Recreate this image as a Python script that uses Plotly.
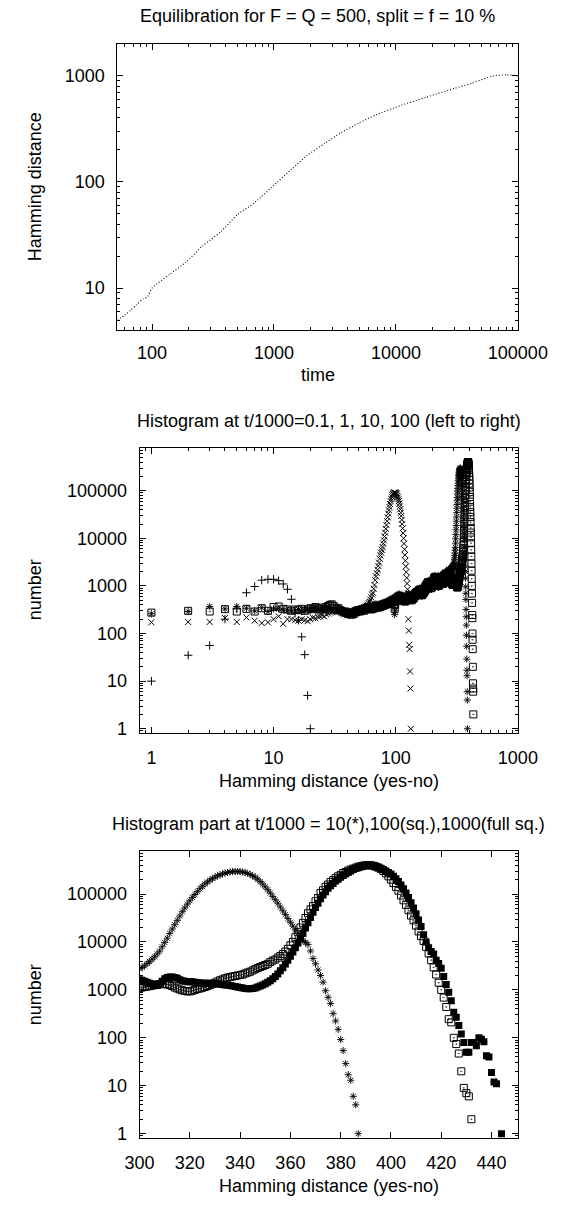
import plotly.graph_objects as go
import math

# ---------------- data ----------------
# Panel 1: equilibration curve
TIME = [52, 60, 67, 75, 84, 92, 100, 140, 189, 260, 363, 500, 696, 1060, 1400,
        1850, 2600, 3540, 5000, 6750, 11200, 17900, 30300, 41900, 61500, 80000, 100000]
DIST = [4.97, 5.6, 6.2, 7.0, 7.9, 8.3, 10.0, 13.5, 17.5, 25, 33.6, 49, 64, 99, 132,
        176, 230, 290, 360, 425, 530, 630, 760, 850, 990, 1020, 1000]

# Panel 2: histograms at t/1000 = 0.1 (+), 1 (x), 10 (*), 100 (squares)
PLUS_X = [1, 2, 3, 4, 5, 6, 7, 8, 9, 10, 11, 12, 13, 14, 15, 16, 17, 18, 19, 20]
PLUS_Y = [10, 35, 56, 200, 330, 720, 975, 1320, 1380, 1380, 1290, 1100, 850, 525,
          270, 190, 85, 36, 5, 1]

XT1_Y = [172, 175, 175, 212, 175, 218, 186, 166, 172, 200,
         230, 160, 200, 200, 190, 186, 200, 190, 182, 200,
         214, 209, 224, 229, 240, 229, 251, 263, 275, 282,
         295, 302, 295, 288, 302, 275, 263, 251, 257, 240,
         251, 240, 234, 251, 257, 245, 263, 269, 275, 288,
         282, 295, 302, 309, 331, 339, 363, 380, 407, 437,
         468, 513, 575, 661, 724, 871, 1047, 1318, 1585, 1862,
         2188, 2630, 3090, 3715, 4365, 5012, 5754, 6607, 7762, 9120,
         10960, 13180, 15850, 19050, 22910, 27540, 33110, 38900, 45710, 52480,
         60260, 67610, 74130, 81280, 85110, 89130, 91200, 91200, 91200, 89130,
         87100, 83180, 77620, 72440, 66070, 60260, 53700, 46770, 40740, 34670,
         29510, 24550, 19950, 16220, 12880, 10000, 7762, 5888, 4467, 3388,
         2570, 1950, 1479, 1122, 851, 631, 200, 115, 58, 47,
         16, 7, 1]

STAR_LOW = [260, 290, 370, 330, 370, 340, 300, 350, 290, 330,
            330, 310, 300, 310, 300, 320, 290, 310, 330, 300,
            350, 310, 330, 300, 320, 340, 310, 350, 320, 340,
            330, 310, 300, 320, 290, 300, 280, 270, 260, 250,
            260, 240, 250, 260, 270, 260, 280, 290, 300, 280,
            310, 300, 320, 310, 330, 320, 340, 330, 350, 340,
            360, 350, 380, 370, 400, 380, 410, 390, 420, 400,
            380, 410, 390, 420, 400, 430, 410, 440, 420, 450,
            430, 460, 440, 470, 450, 480, 460, 500, 480, 520,
            500, 540, 520, 560, 530, 500, 350, 250, 300, 480,
            600, 520, 640, 540, 660, 560, 680, 570, 650, 550,
            620, 520, 600, 500, 580, 480, 560, 470, 560, 480,
            580, 500, 620, 520, 660, 540, 700, 560, 680, 540,
            640, 520, 600, 500, 580, 480, 600, 500, 640, 530,
            700, 560, 760, 600, 800, 640, 760, 620, 720, 600,
            820, 620, 860, 640, 880, 660, 900, 680, 860, 650,
            820, 620, 800, 600, 820, 620, 860, 650, 900, 680,
            950, 720, 1000, 760, 1050, 800, 1100, 830, 1150, 860,
            1200, 900, 1250, 930, 1300, 960, 1250, 940, 1200, 900,
            1150, 870, 1100, 850, 1100, 850, 1150, 880, 1200, 920,
            1300, 980, 1400, 1050, 1500, 1100, 1600, 1150, 1650, 1200,
            1600, 1150, 1500, 1100, 1400, 1050, 1350, 1000, 1300, 980,
            1250, 950, 1200, 930, 1250, 960, 1300, 1000, 1400, 1050,
            1500, 1100, 1600, 1150, 1700, 1200, 1650, 1180, 1600, 1150,
            1550, 1120, 1500, 1100, 1550, 1150, 1650, 1200, 1750, 1300,
            1850, 1350, 1950, 1400, 2000, 1450, 1900, 1400, 1850, 1350,
            1800, 1350, 1850, 1400, 1900, 1450, 2000, 1500, 2100, 1600,
            2200, 1700, 2300, 1750, 2200, 1700, 2100, 1650, 2050, 1650,
            2100, 1700, 2200, 1800, 2300, 1900, 2400, 2000, 2500, 2100,
            2550, 2200, 2600, 2300, 2650, 2400, 2700, 2550, 2700]

SQ_LOW = [275, 300, 290, 325, 290, 330, 290, 340, 300, 360,
          370, 330, 320, 300, 320, 310, 330, 300, 320, 340,
          330, 360, 340, 320, 350, 330, 360, 380, 400, 410,
          380, 350, 330, 340, 310, 300, 290, 280, 290, 270,
          260, 280, 270, 250, 260, 280, 300, 290, 310, 300,
          290, 320, 310, 330, 300, 340, 320, 350, 330, 360,
          330, 340, 320, 350, 330, 360, 340, 370, 350, 380,
          360, 350, 370, 360, 380, 370, 390, 380, 400, 390,
          410, 400, 420, 410, 430, 420, 440, 430, 450, 440,
          460, 450, 470, 460, 480, 470, 420, 330, 400, 500,
          480, 560, 500, 580, 520, 600, 540, 620, 560, 600,
          540, 580, 520, 560, 500, 540, 480, 520, 470, 520,
          480, 540, 500, 560, 520, 580, 540, 600, 560, 580,
          540, 560, 520, 540, 500, 540, 520, 560, 540, 600,
          560, 640, 600, 680, 640, 720, 660, 700, 640, 680,
          640, 760, 660, 800, 680, 820, 700, 840, 680, 800,
          650, 780, 640, 760, 650, 780, 680, 820, 710, 860,
          740, 900, 780, 950, 820, 1000, 860, 1050, 900, 1100,
          940, 1150, 980, 1200, 1000, 1180, 980, 1150, 950, 1100,
          920, 1050, 900, 1050, 900, 1080, 930, 1120, 960, 1180,
          1000, 1250, 1050, 1350, 1100, 1450, 1150, 1500, 1200, 1550,
          1200, 1500, 1150, 1400, 1100, 1350, 1050, 1300, 1000, 1250,
          1050, 1250, 1000, 1200, 1000, 1250, 1050, 1300, 1100, 1400,
          1150, 1500, 1200, 1550, 1250, 1500, 1200, 1450, 1150, 1400,
          1100, 1400, 1100, 1450, 1150, 1500, 1200, 1600, 1250, 1650,
          1300, 1700, 1350, 1750, 1350, 1700, 1300, 1650, 1300, 1600,
          1250, 1600, 1250, 1650, 1300, 1700, 1350, 1750, 1400, 1800,
          1400, 1750, 1350, 1700, 1300, 1650, 1250, 1600, 1250, 1550,
          1200, 1500, 1200, 1450, 1150, 1400, 1150, 1350, 1100, 1300,
          1100, 1300, 1050, 1250, 1050, 1200, 1050, 1150, 1100]

# Panel 3 (and right part of panel 2): t/1000 = 10 (*), 100 (sq.), 1000 (full sq.)
STAR_HI = [2750, 2950, 3160, 3550, 3890, 4370, 4900, 5620, 6460, 7940,
           9770, 12000, 15100, 18600, 22900, 28200, 34700, 42700, 51300, 61700,
           72400, 85100, 97700, 112000, 129000, 145000, 162000, 178000, 195000, 209000,
           224000, 240000, 251000, 263000, 275000, 282000, 288000, 295000, 295000, 295000,
           295000, 288000, 282000, 269000, 257000, 240000, 224000, 204000, 182000, 162000,
           141000, 123000, 105000, 89100, 75900, 64600, 53700, 44700, 37200, 30900,
           25700, 21400, 17800, 15100, 12600, 10700, 9800, 8900, 6500, 4500,
           3500, 2600, 2000, 1450, 960, 700, 520, 320, 225, 150,
           92, 54, 29, 17, 13, 6, 4, 1]

SQ_HI = [1100, 1120, 1150, 1170, 1200, 1230, 1260, 1290, 1320, 1320,
         1320, 1300, 1260, 1200, 1120, 1070, 1020, 980, 950, 930,
         930, 960, 1000, 1040, 1070, 1110, 1150, 1200, 1260, 1330,
         1410, 1500, 1580, 1650, 1740, 1800, 1860, 1900, 1950, 2000,
         2050, 2100, 2200, 2300, 2400, 2550, 2700, 2850, 3000, 3150,
         3300, 3500, 3800, 4100, 4300, 4700, 5100, 5600, 6300, 7200,
         8500, 10000, 12600, 16000, 20000, 25000, 31600, 39800, 47900, 56000,
         70800, 83000, 105000, 120000, 141000, 158000, 178000, 195000, 214000, 234000,
         251000, 275000, 288000, 309000, 324000, 339000, 355000, 372000, 380000, 390000,
         398000, 398000, 398000, 389000, 372000, 355000, 331000, 302000, 269000, 234000,
         200000, 170000, 141000, 117000, 93300, 74100, 58900, 45700, 35500, 28200,
         21900, 16600, 13200, 10500, 7900, 5750, 4170, 2950, 2090, 1410,
         1000, 690, 440, 245, 210, 100, 74, 47, 20, 9,
         7, 6, 2]

FULL_X = list(range(300, 443)) + [444]
FULL_Y = [1620, 1580, 1510, 1450, 1380, 1320, 1260, 1230, 1320, 1510,
          1700, 1820, 1860, 1860, 1820, 1740, 1620, 1550, 1510, 1480,
          1480, 1480, 1450, 1410, 1410, 1380, 1380, 1380, 1380, 1350,
          1350, 1320, 1320, 1290, 1260, 1260, 1230, 1200, 1170, 1150,
          1120, 1100, 1070, 1050, 1050, 1070, 1100, 1150, 1200, 1260,
          1350, 1450, 1550, 1700, 1900, 2140, 2510, 2880, 3470, 4170,
          5010, 6170, 7590, 9550, 12000, 15100, 19500, 25100, 32400, 41700,
          52500, 64600, 79400, 95500, 112000, 132000, 148000, 166000, 186000, 204000,
          224000, 245000, 263000, 282000, 302000, 324000, 339000, 355000, 372000, 389000,
          398000, 398000, 398000, 389000, 380000, 363000, 347000, 324000, 302000, 282000,
          263000, 234000, 209000, 182000, 155000, 129000, 105000, 85100, 66100, 51300,
          38900, 28800, 20900, 14100, 10000, 7590, 6310, 5620, 4170, 3550,
          2820, 1910, 1290, 890, 590, 340, 270, 180, 120, 80,
          50, 50, 80, 80, 68, 100, 93, 83, 42, 40,
          19, 12, 11,
          1]

LOW_BINS = list(range(1, 300))
XT1_BINS = list(range(1, 134))
STAR_HI_BINS = list(range(300, 388))
SQ_HI_BINS = list(range(300, 433))

X1_TICKS = [100, 1000, 10000, 100000]
Y1_TICKS = [10, 100, 1000]
X2_TICKS = [1, 10, 100, 1000]
COUNT_TICKS = [1, 10, 100, 1000, 10000, 100000]
X3_TICKS = [300, 320, 340, 360, 380, 400, 420, 440]

# ---------------- layout helpers ----------------
W, H = 582, 1207
FONT = "Liberation Sans, Arial, Helvetica, sans-serif"


def fx(p):
    return p / W


def fy(p):
    return 1 - p / H


def minor_log(lo, hi):
    out = []
    for e in range(-1, 6):
        for k in range(2, 10):
            v = k * 10 ** e
            if lo < v < hi:
                out.append(v)
    return out


def axis(domain, anchor, rng, typ, tickvals, minor_vals=None, standoff=4):
    d = dict(domain=domain, anchor=anchor, range=rng, type=typ,
             showline=True, linecolor="black", linewidth=1, mirror="ticks",
             ticks="inside", ticklen=6, tickwidth=1, tickcolor="black",
             showgrid=False, zeroline=False, fixedrange=True,
             tickmode="array", tickvals=tickvals, ticktext=[str(v) for v in tickvals],
             tickfont=dict(family=FONT, size=18, color="black"),
             ticklabelstandoff=standoff)
    if minor_vals:
        d["minor"] = dict(ticks="inside", ticklen=3, tickwidth=1, tickcolor="black",
                          tickmode="array", tickvals=minor_vals, showgrid=False)
    return d


fig = go.Figure()

BLK = "black"

# Panel 1
fig.add_trace(go.Scatter(x=TIME, y=DIST, mode="lines", xaxis="x", yaxis="y",
                         line=dict(color=BLK, width=1.1, dash="1px,2px", shape="spline",
                                   smoothing=0.6)))

# Panel 2
fig.add_trace(go.Scatter(x=PLUS_X, y=PLUS_Y, mode="markers", xaxis="x2", yaxis="y2",
                         marker=dict(symbol="cross-thin-open", size=6, color=BLK,
                                     line=dict(color=BLK, width=1))))
fig.add_trace(go.Scatter(x=XT1_BINS, y=XT1_Y, mode="markers", xaxis="x2", yaxis="y2",
                         marker=dict(symbol="x-thin-open", size=6, color=BLK,
                                     line=dict(color=BLK, width=1))))
fig.add_trace(go.Scatter(x=LOW_BINS + STAR_HI_BINS, y=STAR_LOW + STAR_HI, mode="markers",
                         xaxis="x2", yaxis="y2",
                         marker=dict(symbol="asterisk-open", size=6, color=BLK,
                                     line=dict(color=BLK, width=0.9))))
fig.add_trace(go.Scatter(x=LOW_BINS + SQ_HI_BINS, y=SQ_LOW + SQ_HI, mode="markers",
                         xaxis="x2", yaxis="y2",
                         marker=dict(symbol="square-open-dot", size=7, color=BLK,
                                     line=dict(color=BLK, width=1))))

# Panel 3
fig.add_trace(go.Scatter(x=STAR_HI_BINS, y=STAR_HI, mode="markers", xaxis="x3", yaxis="y3",
                         marker=dict(symbol="asterisk-open", size=6, color=BLK,
                                     line=dict(color=BLK, width=0.9))))
fig.add_trace(go.Scatter(x=SQ_HI_BINS, y=SQ_HI, mode="markers", xaxis="x3", yaxis="y3",
                         marker=dict(symbol="square-open-dot", size=7, color=BLK,
                                     line=dict(color=BLK, width=1))))
fig.add_trace(go.Scatter(x=FULL_X, y=FULL_Y, mode="markers", xaxis="x3", yaxis="y3",
                         marker=dict(symbol="square", size=7, color=BLK,
                                     line=dict(width=0))))

L1, L2, R = 111, 135, 545
fig.update_layout(
    width=W, height=H,
    margin=dict(l=0, r=0, t=0, b=0),
    paper_bgcolor="white", plot_bgcolor="white",
    showlegend=False, hovermode=False, dragmode=False,
    xaxis=axis([fx(L1), fx(R)], "y", [math.log10(52), 5], "log", X1_TICKS,
               minor_log(52, 100000), standoff=6),
    yaxis=axis([fy(332), fy(44)], "x", [math.log10(4), math.log10(2000)], "log", Y1_TICKS,
               minor_log(4, 2000), standoff=8),
    xaxis2=axis([fx(L2), fx(R)], "y2", [math.log10(0.8), 3], "log", X2_TICKS,
                minor_log(0.8, 1000), standoff=8),
    yaxis2=axis([fy(737), fy(450)], "x2", [math.log10(0.8), math.log10(8e5)], "log",
                COUNT_TICKS, minor_log(0.8, 8e5), standoff=8),
    xaxis3=axis([fx(L2), fx(R)], "y3", [300, 450.5], "linear", X3_TICKS, None, standoff=8),
    yaxis3=axis([fy(1144), fy(855)], "x3", [math.log10(0.8), math.log10(8e5)], "log",
                COUNT_TICKS, minor_log(0.8, 8e5), standoff=8),
)


def label(text, x, y, angle=0):
    fig.add_annotation(text=text, x=fx(x), y=fy(y), xref="paper", yref="paper",
                       showarrow=False, xanchor="center", yanchor="middle",
                       textangle=angle, font=dict(family=FONT, size=18, color="black"))


label("Equilibration for F = Q = 500, split = f = 10 %", (L1 + R) / 2, 16)
label("time", (L1 + R) / 2, 377)
label("Hamming distance", 22, 188, -90)
label("Histogram at t/1000=0.1, 1, 10, 100 (left to right)", (L2 + R) / 2, 423)
label("Hamming distance (yes-no)", (L2 + R) / 2, 785)
label("number", 22, 593, -90)
label("Histogram part at t/1000 = 10(*),100(sq.),1000(full sq.)", (L2 + R) / 2, 828)
label("Hamming distance (yes-no)", (L2 + R) / 2, 1192)
label("number", 22, 1000, -90)

fig.write_html("out.html",
               config={"displayModeBar": False, "staticPlot": True},
               post_script="document.body.style.margin='0px';"
                           "document.body.style.overflow='hidden';")
